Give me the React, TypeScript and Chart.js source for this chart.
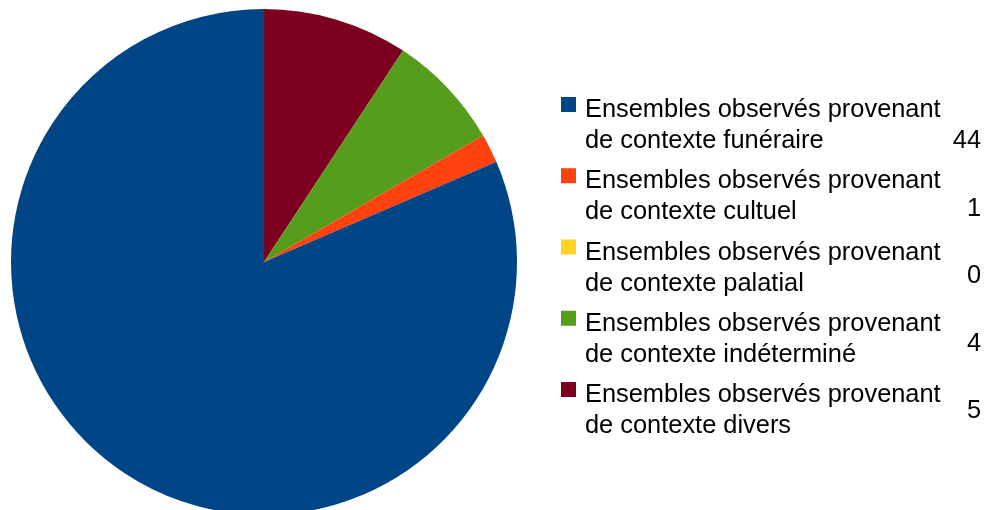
import React, { useEffect, useRef } from "react";
import { Chart, registerables } from "chart.js";

Chart.register(...registerables);

const categories = [
  "Ensembles observés provenant de contexte funéraire",
  "Ensembles observés provenant de contexte cultuel",
  "Ensembles observés provenant de contexte palatial",
  "Ensembles observés provenant de contexte indéterminé",
  "Ensembles observés provenant de contexte divers",
];
const values = [44, 1, 0, 4, 5];
const colors = ["#004586", "#ff420e", "#ffd320", "#579d1c", "#7e0021"];

const FONT = '25.4px "Liberation Sans", Arial, sans-serif';

const legendPlugin = {
  id: "customLegend",
  afterDraw(chart: any) {
    const ctx = chart.ctx as CanvasRenderingContext2D;
    ctx.save();
    ctx.font = FONT;
    ctx.textBaseline = "alphabetic";
    categories.forEach((label, i) => {
      const split = label.indexOf("de contexte");
      const l1 = label.slice(0, split).trim();
      const l2 = label.slice(split).trim();
      const base = 117 + i * 71.25;
      ctx.fillStyle = colors[i];
      ctx.fillRect(561, base - 20, 15, 15);
      ctx.fillStyle = "#000000";
      ctx.textAlign = "left";
      ctx.fillText(l1, 585, base);
      ctx.fillText(l2, 585, base + 31);
      ctx.textAlign = "right";
      ctx.fillText(String(values[i]), 981, 148 + i * 67.5);
    });
    ctx.restore();
  },
};

export default function App() {
  const ref = useRef<HTMLCanvasElement>(null);
  useEffect(() => {
    if (!ref.current) return;
    const order = [4, 3, 2, 1, 0];
    const chart = new Chart(ref.current, {
      type: "pie",
      data: {
        labels: order.map((i) => categories[i]),
        datasets: [
          {
            data: order.map((i) => values[i]),
            backgroundColor: order.map((i) => colors[i]),
            borderWidth: 0,
          },
        ],
      },
      options: {
        animation: false,
        responsive: false,
        devicePixelRatio: 1,
        layout: { padding: { left: 11, right: 474, top: 9, bottom: 5 } },
        plugins: {
          legend: { display: false },
          tooltip: { enabled: false },
        },
      },
      plugins: [legendPlugin],
    });
    return () => chart.destroy();
  }, []);
  return (
    <div
      style={{
        position: "absolute",
        left: 0,
        top: 0,
        width: 991,
        height: 510,
        overflow: "hidden",
        background: "#ffffff",
      }}
    >
      <canvas ref={ref} width={991} height={520} style={{ width: 991, height: 520, display: "block" }} />
    </div>
  );
}
